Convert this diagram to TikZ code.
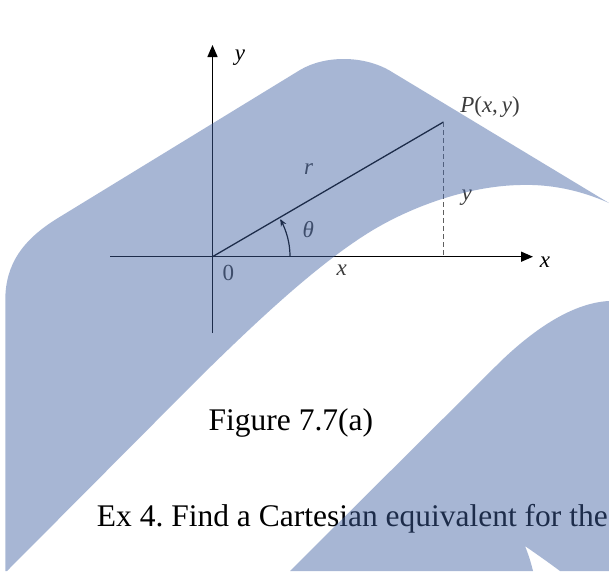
\documentclass[tikz,border=0pt]{standalone}
\usepackage{fontspec}
\setmainfont{Liberation Serif}
\usetikzlibrary{arrows.meta}
\definecolor{wm}{RGB}{65,98,163}
\definecolor{lbl}{RGB}{60,60,60}
\definecolor{dashgray}{RGB}{95,95,95}
\frenchspacing
\begin{document}
\begin{tikzpicture}[x=1pt,y=-1pt,
  axisline/.style={line width=1.4pt, black},
  axistip/.style={-{Triangle[length=12pt,width=10pt]}},
  lab/.style={font=\fontsize{23}{23}\selectfont, text=lbl, inner sep=0pt},
  caption/.style={font=\fontsize{31.5}{32}\selectfont, anchor=base west, inner sep=0pt, text=black},
  wmfill/.style={fill=wm, fill opacity=0.46}]
\fill[white] (0,0) rectangle (609,571);
\useasboundingbox (0,0) rectangle (609,571);
\clip (0,0) rectangle (609,571);
% diagram
\coordinate (O) at (212.5,256.7);
\coordinate (P) at (443.5,122);
\coordinate (Ytop) at (212.5,45);
\coordinate (Ybot) at (212.5,333);
\coordinate (Xleft) at (110,256.7);
\coordinate (Xright) at (533,256.7);
\coordinate (Pfoot) at (443.5,256.7);
\draw[axisline, axistip] (Ybot) -- (Ytop);
\draw[axisline, axistip] (Xleft) -- (Xright);
\draw[line width=1.3pt, black] (O) -- (P);
\draw[line width=1.6pt, dashgray, dash pattern=on 5pt off 3pt] (P) -- (Pfoot);
\draw[line width=1.2pt, black, -{Stealth[length=7pt,width=6pt]}]
  plot[domain=0:29, samples=40] ({212.5+77.5*cos(\x)},{256.7-77.5*sin(\x)});
\node[lab, text=black] (ly) at (240,58) {\textit{y}};
\node[lab, text=black] (lx) at (545,262) {\textit{x}};
\node[lab] (lP) at (490,107) {\textit{P}(\textit{x},\,\textit{y})};
\node[lab] (lr) at (308.7,169.3) {\textit{r}};
\node[lab] (lth) at (308.3,230) {\textit{θ}};
\node[lab] (l0) at (228.3,273.3) {0};
\node[lab] (lxb) at (341.7,270) {\textit{x}};
\node[lab] (lyd) at (466.7,198) {\textit{y}};
\node[caption] (fig) at (208.5,430) {Figure 7.7(a)};
\node[caption] (ex) at (96.7,526) {Ex 4. Find a Cartesian equivalent for the};
% watermark
\fill[wmfill] (5.3,571) -- (5.3,300) .. controls (5.3,265) and (22,240) .. (58,218)
  -- (300,70) .. controls (325,55) and (365,55) .. (392,72) -- (609,203)
  .. controls (580,190) and (550,184) .. (520,185)
  .. controls (470,186) and (415,205) .. (373,230)
  .. controls (320,262) and (260,318) .. (200,377) -- (7,571) -- cycle;
\fill[wmfill] (290,571) -- (500,362) .. controls (530,333) and (570,303) .. (609,301)
  -- (609,571) -- (560,571) .. controls (548,562) and (535,553) .. (525,546)
  .. controls (529,556) and (531,563) .. (533,571) -- cycle;
\end{tikzpicture}
\end{document}
